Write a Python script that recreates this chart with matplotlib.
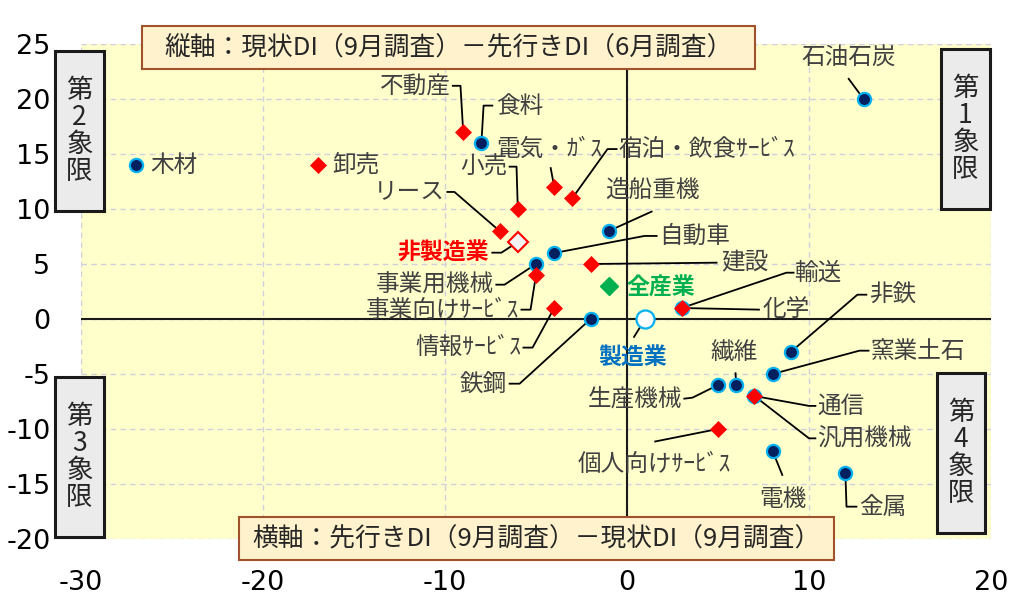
import matplotlib
matplotlib.use("Agg")
import matplotlib.pyplot as plt
from matplotlib.patches import Rectangle

plt.rcParams['font.family'] = ['Noto Sans CJK JP', 'DejaVu Sans']
plt.rcParams['axes.unicode_minus'] = False

# ---------------- data ----------------
mfg_names = ['石油石炭', '木材', '食料', '造船重機', '自動車', '事業用機械', '鉄鋼', '化学',
             '非鉄', '窯業土石', '繊維', '生産機械', '汎用機械', '電機', '金属']
mfg_x = [13, -27, -8, -1, -4, -5, -2, 3, 9, 8, 6, 5, 7, 8, 12]
mfg_y = [20, 14, 16, 8, 6, 5, 0, 1, -3, -5, -6, -6, -7, -12, -14]

non_names = ['卸売', '不動産', '電気・ｶﾞｽ', '宿泊・飲食ｻｰﾋﾞｽ', '小売', 'リース', '建設',
             '事業向けｻｰﾋﾞｽ', '輸送', '情報ｻｰﾋﾞｽ', '通信', '個人向けｻｰﾋﾞｽ']
non_x = [-17, -9, -4, -3, -6, -7, -2, -5, 3, -4, 7, 5]
non_y = [14, 17, 12, 11, 10, 8, 5, 4, 1, 1, -7, -10]

agg_names = ['全産業', '製造業', '非製造業']
agg_x = [-1, 1, -6]
agg_y = [3, 0, 7]

x_ticks = [-30, -20, -10, 0, 10, 20]
y_ticks = [-20, -15, -10, -5, 0, 5, 10, 15, 20, 25]

# ---------------- label layout (text pos, ha, leader waypoints) ----------------
layout = {
    '石油石炭': (12.2, 23.75, 'center', [(12.15, 21.9)]),
    '木材': (-26.2, 14, 'left', []),
    '卸売': (-16.2, 14, 'left', []),
    '不動産': (-9.7, 21.1, 'right', [(-9.15, 21.2), (-9.62, 21.2)]),
    '食料': (-7.2, 19.35, 'left', [(-7.88, 19.4), (-7.35, 19.4)]),
    '電気・ｶﾞｽ': (-4.3, 15.4, 'center', [(-4.2, 13.8)]),
    '宿泊・飲食ｻｰﾋﾞｽ': (-0.45, 15.4, 'left', [(-1.07, 15.45), (-0.52, 15.45)]),
    '小売': (-6.55, 13.85, 'right', [(-6.07, 13.85), (-6.5, 13.85)]),
    'リース': (-10.0, 11.55, 'right', [(-9.48, 11.55), (-9.92, 11.55)]),
    '造船重機': (1.4, 11.75, 'center', [(1.4, 9.8)]),
    '自動車': (1.75, 7.55, 'left', [(0.96, 7.55), (1.68, 7.55)]),
    '非製造業': (-7.6, 6.0, 'right', [(-6.9, 6.03), (-7.45, 6.03)]),
    '事業用機械': (-7.3, 3.1, 'right', [(-6.73, 3.12), (-7.23, 3.12)]),
    '事業向けｻｰﾋﾞｽ': (-5.9, 0.75, 'right', [(-5.3, 0.85), (-5.85, 0.85)]),
    '情報ｻｰﾋﾞｽ': (-5.8, -2.6, 'right', [(-5.19, -2.6), (-5.74, -2.6)]),
    '鉄鋼': (-6.6, -5.9, 'right', [(-5.9, -5.88), (-6.5, -5.88)]),
    '建設': (5.2, 5.1, 'left', [(4.97, 5.12)]),
    '全産業': (0.0, 2.85, 'left', []),
    '輸送': (9.2, 4.2, 'left', [(8.76, 4.21), (9.2, 4.21)]),
    '化学': (7.45, 0.85, 'left', [(7.3, 0.85)]),
    '製造業': (0.3, -3.5, 'center', [(0.36, -1.7)]),
    '非鉄': (13.3, 2.2, 'left', [(12.66, 2.21), (13.2, 2.21)]),
    '窯業土石': (13.4, -2.95, 'left', [(12.77, -2.88), (13.32, -2.88)]),
    '繊維': (5.9, -3.05, 'center', [(5.96, -4.85)]),
    '生産機械': (3.05, -7.25, 'right', [(3.6, -7.15), (3.1, -7.25)]),
    '通信': (10.45, -7.95, 'left', [(10.0, -7.9), (10.4, -7.9)]),
    '汎用機械': (10.45, -10.95, 'left', [(10.0, -10.85), (10.4, -10.85)]),
    '個人向けｻｰﾋﾞｽ': (1.5, -13.25, 'center', [(1.5, -11.15)]),
    '電機': (8.55, -16.4, 'center', [(8.55, -14.25)]),
    '金属': (12.75, -17.15, 'left', [(12.06, -17.06), (12.66, -17.06)]),
}

W, H = 1024, 602
fig = plt.figure(figsize=(W / 100, H / 100), dpi=100)
ax = fig.add_axes([81 / W, 1 - 539 / H, 910 / W, 495 / H])
ax.set_facecolor('#FFFFCC')
ax.set_xlim(-30, 20)
ax.set_ylim(-20, 25)
ax.set_xticks(x_ticks)
ax.set_yticks(y_ticks)
ax.grid(True, color='#D0D0DC', linestyle=(0, (4, 3)), linewidth=1.0, zorder=0)
ax.set_axisbelow(True)
for s in ax.spines.values():
    s.set_visible(False)
ax.tick_params(length=0, labelsize=19.5, labelcolor='black')
ax.tick_params(axis='y', pad=22)
ax.tick_params(axis='x', pad=22)
for lab in ax.get_xticklabels() + ax.get_yticklabels():
    lab.set_fontfamily('DejaVu Sans')
ax.axhline(0, color='#1a1a1a', lw=1.5, zorder=1)
ax.axvline(0, color='#1a1a1a', lw=1.5, zorder=1)

pts = {}
for n, x, y in zip(mfg_names, mfg_x, mfg_y):
    pts[n] = (x, y)
for n, x, y in zip(non_names, non_x, non_y):
    pts[n] = (x, y)
for n, x, y in zip(agg_names, agg_x, agg_y):
    pts[n] = (x, y)

# leader lines
for n, (tx, ty, ha, wps) in layout.items():
    if wps:
        xs = [pts[n][0]] + [p[0] for p in wps]
        ys = [pts[n][1]] + [p[1] for p in wps]
        ax.plot(xs, ys, color='black', lw=1.3, zorder=2, solid_capstyle='butt')

# markers
ax.plot(mfg_x, mfg_y, 'o', ms=9.5, mfc='#002060', mec='#00B0F0', mew=1.6,
        ls='none', zorder=3)
ax.plot(non_x, non_y, 'D', ms=8, mfc='#FF0000', mec='#FF0000', mew=0.5,
        ls='none', zorder=4)
ax.plot(agg_x[0], agg_y[0], 'D', ms=9.5, mfc='#00B050', mec='#00B050', ls='none', zorder=4)
ax.plot(agg_x[1], agg_y[1], 'o', ms=13, mfc='white', mec='#00B0F0', mew=1.6, ls='none', zorder=4)
ax.plot(agg_x[2], agg_y[2], 'D', ms=10, mfc='#F2F2F2', mec='#FF0000', mew=1.5, ls='none', zorder=4)

special = {'全産業': '#00B050', '製造業': '#0070C0', '非製造業': '#FF0000'}
for n, (tx, ty, ha, wps) in layout.items():
    if n in special:
        ax.text(tx, ty, n, ha=ha, va='center', fontsize=16.5, color=special[n],
                fontweight='bold', zorder=5)
    else:
        ax.text(tx, ty, n, ha=ha, va='center', fontsize=17, color='#404040', zorder=5)


def px_rect(x0, y0, x1, y1, fc, ec, lw):
    r = Rectangle((x0 / W, 1 - y1 / H), (x1 - x0) / W, (y1 - y0) / H,
                  transform=fig.transFigure, facecolor=fc, edgecolor=ec,
                  linewidth=lw, zorder=10)
    fig.add_artist(r)


# axis description boxes
px_rect(142, 26, 755, 69, '#FFF2CC', '#A0522D', 1.5)
fig.text((142 + 755) / 2 / W, 1 - 48 / H, '縦軸：現状DI（9月調査）－先行きDI（6月調査）',
         ha='center', va='center', fontsize=18.5, color='#262626', zorder=11)
px_rect(239, 517, 834, 560, '#FFF2CC', '#A0522D', 1.5)
fig.text((239 + 834) / 2 / W, 1 - 539 / H, '横軸：先行きDI（9月調査）－現状DI（9月調査）',
         ha='center', va='center', fontsize=18.5, color='#262626', zorder=11)

# quadrant boxes
quads = [('第\n2\n象\n限', 55, 51, 104, 211),
         ('第\n1\n象\n限', 941, 49, 990, 209),
         ('第\n3\n象\n限', 55, 377, 104, 537),
         ('第\n4\n象\n限', 937, 373, 985, 533)]
for t, x0, y0, x1, y1 in quads:
    px_rect(x0, y0, x1, y1, '#EBEBEB', '#1a1a1a', 2.2)
    fig.text((x0 + x1) / 2 / W, 1 - (y0 + y1) / 2 / H, t, ha='center', va='center',
             fontsize=19, color='#262626', linespacing=1.0, zorder=11)

fig.savefig('out.png', dpi=100)
